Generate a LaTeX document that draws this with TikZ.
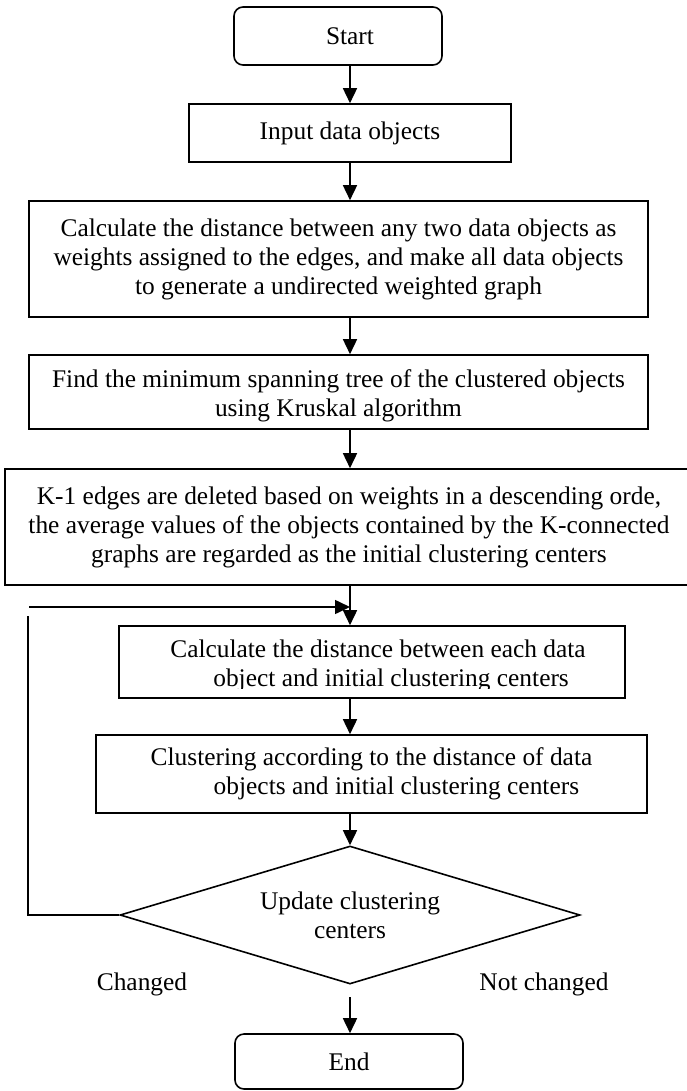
\documentclass[tikz,border=0pt]{standalone}
\usepackage{fontspec}
\setmainfont{Liberation Serif}
\usetikzlibrary{arrows.meta,shapes.geometric}
\begin{document}
\begin{tikzpicture}[x=1pt,y=-1pt,
  line width=1.6pt,
  every node/.style={font=\fontsize{25.4}{29}\selectfont},
  box/.style={draw, rectangle, inner sep=0pt, align=center},
  txt/.style={inner sep=0pt, align=center},
  term/.style={draw, rectangle, rounded corners=9pt, inner sep=0pt},
  decision/.style={draw, diamond, aspect=3.33, inner sep=0pt, minimum width=460pt, minimum height=138pt, align=center},
  arr/.style={-{Triangle[length=15pt,width=14pt]}}
]
\useasboundingbox (0,0) rectangle (686,1091);
\node[term, minimum width=208pt, minimum height=58pt] (start) at (338,36) {\hspace*{24pt}Start};
\node[box, minimum width=322pt, minimum height=58pt] (input) at (350,133) {Input data objects};
\node[box, minimum width=619pt, minimum height=116pt] (calc) at (338.5,259) {Calculate the distance between any two data objects as\\weights assigned to the edges, and make all data objects\\to generate a undirected weighted graph};
\node[box, minimum width=619pt, minimum height=74pt] (mst) at (338.5,392) {};
\begin{scope}
\clip (30,356) rectangle (647,421);
\node[txt] (mstt) at (338.5,396) {Find the minimum spanning tree of the clustered objects\\using Kruskal algorithm};
\end{scope}
\node[box, minimum width=688pt, minimum height=116pt] (cut) at (349,527) {K-1 edges are deleted based on weights in a descending orde,\\the average values of the objects contained by the K-connected\\graphs are regarded as the initial clustering centers};
\node[box, minimum width=506pt, minimum height=72pt] (dist) at (372,662) {};
\begin{scope}
\clip (120,627) rectangle (624,688);
\node[txt, align=left] (distt) at (378,666) {Calculate the distance between each data\\\hspace*{43pt}object and initial clustering centers};
\end{scope}
\node[box, minimum width=551pt, minimum height=78pt, align=left] (assign) at (371.5,774) {Clustering according to the distance of data\\\hspace*{63pt}objects and initial clustering centers};
\node[decision] (upd) at (350,915) {Update clustering\\centers};
\node[term, minimum width=228pt, minimum height=55pt] (end) at (349,1061.5) {End};
\node (chg) at (142,984) {Changed};
\node (nchg) at (544,984) {Not changed};
\coordinate (g) at (350,997);
\coordinate (l1) at (28,616);
\coordinate (l2) at (29,607);
\draw[arr] (start.south -| input) -- (input);
\draw[arr] (input) -- (calc.north -| input);
\draw[arr] (calc.south -| input) -- (mst.north -| input);
\draw[arr] (mst.south -| input) -- (cut.north -| input);
\draw[arr] (cut.south -| input) -- (dist.north -| input);
\draw[arr] (dist.south -| input) -- (assign.north -| input);
\draw[arr] (assign.south -| input) -- (upd.north);
\draw[arr] (g) -- (end.north -| g);
\draw (upd.west) -| (l1);
\draw[arr] (l2) -- (l2 -| input);
\end{tikzpicture}
\end{document}
